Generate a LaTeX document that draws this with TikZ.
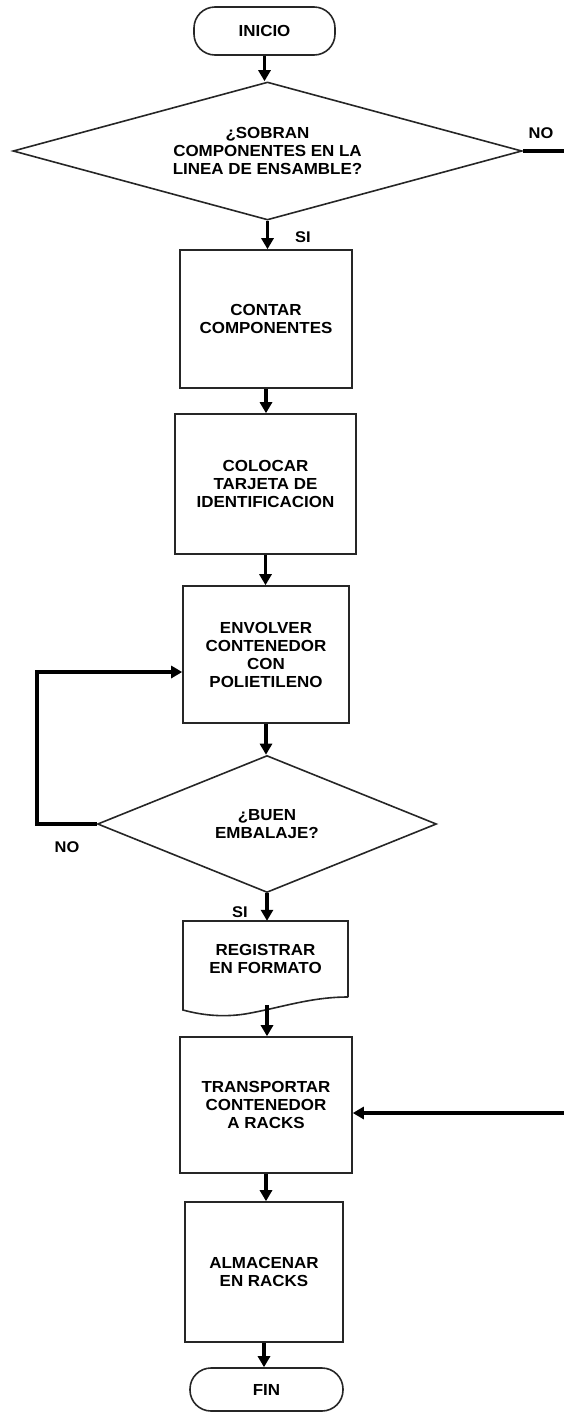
\documentclass[tikz,border=0pt]{standalone}
\usepackage{fontspec}
\setmainfont{Liberation Sans}[FakeStretch=1.06]
\usetikzlibrary{shapes.geometric,arrows.meta}
\begin{document}
\begin{tikzpicture}[x=1pt,y=-1pt,
  every node/.style={font=\bfseries\fontsize{16}{18}\selectfont, align=center, text=black},
  box/.style={draw=black!85, line width=1.6pt, rectangle, inner sep=0pt},
  term/.style={draw=black!85, line width=1.6pt, rectangle, rounded corners=21pt, inner sep=0pt},
  dia/.style={draw=black!85, line width=1.6pt, diamond, inner sep=0pt},
  conn/.style={line width=3.6pt, draw=black},
  arr/.style={conn, -{Triangle[width=12pt,length=11pt]}},
  lbl/.style={font=\bfseries\fontsize{15.5}{18}\selectfont}]
\useasboundingbox (0,0) rectangle (564,1414);

\node[term, minimum width=141pt, minimum height=48pt] (inicio) at (264.5,31) {INICIO};
\node[dia, minimum width=509pt, minimum height=138pt, shape aspect=3.69] (d1) at (267.5,151)
  {¿SOBRAN\\COMPONENTES EN LA\\LINEA DE ENSAMBLE?};
\node[box, minimum width=172pt, minimum height=138pt] (contar) at (266,319) {CONTAR\\COMPONENTES};
\node[box, minimum width=181pt, minimum height=140pt] (colocar) at (265.5,484) {COLOCAR\\TARJETA DE\\IDENTIFICACION};
\node[box, minimum width=166pt, minimum height=137pt] (envolver) at (266,654.5) {ENVOLVER\\CONTENEDOR\\CON\\POLIETILENO};
\node[dia, minimum width=339pt, minimum height=137pt, shape aspect=2.47] (d2) at (267,824) {¿BUEN\\EMBALAJE?};
\node[inner sep=0pt, minimum width=165pt, minimum height=76pt] (reg) at (265.5,959) {REGISTRAR\\EN FORMATO};
\draw[black!85, line width=1.6pt] (348,997) -- (348,921) -- (183,921) -- (183,1010)
  .. controls (205,1016) and (225,1017) .. (245,1014)
  .. controls (280,1008) and (310,997) .. (348,997);
\node[box, minimum width=172pt, minimum height=136pt] (transp) at (266,1105) {TRANSPORTAR\\CONTENEDOR\\A RACKS};
\node[box, minimum width=158pt, minimum height=140pt] (alm) at (264,1272) {ALMACENAR\\EN RACKS};
\node[term, minimum width=153pt, minimum height=43pt] (fin) at (266.5,1389.5) {FIN};

\coordinate (noend) at (564,151);
\coordinate (loopc) at (37,824);
\coordinate (regout) at (267,1005);
\coordinate (rin) at (564,1113);

\draw[arr] (inicio.south) -- (inicio.south |- d1.north);
\draw[conn] (d1.east) -- (noend);
\draw[arr] (d1.south) -- (d1.south |- contar.north);
\draw[arr] (contar.south) -- (contar.south |- colocar.north);
\draw[arr] (colocar.south) -- (colocar.south |- envolver.north);
\draw[arr] (envolver.south) -- (envolver.south |- d2.north);
\draw[arr] (d2.west) -- (loopc) |- ([yshift=-17.5pt]envolver.west);
\draw[arr] (d2.south) -- (d2.south |- reg.north);
\draw[arr] (regout) -- (regout |- transp.north);
\draw[arr] (rin) -- (rin -| transp.east);
\draw[arr] (transp.south) -- (transp.south |- alm.north);
\draw[arr] (alm.south) -- (alm.south |- fin.north);

\node[lbl] (lno1) at (541,133) {NO};
\node[lbl] (lsi1) at (303,237) {SI};
\node[lbl] (lno2) at (67,847) {NO};
\node[lbl] (lsi2) at (240,912) {SI};
\end{tikzpicture}
\end{document}
